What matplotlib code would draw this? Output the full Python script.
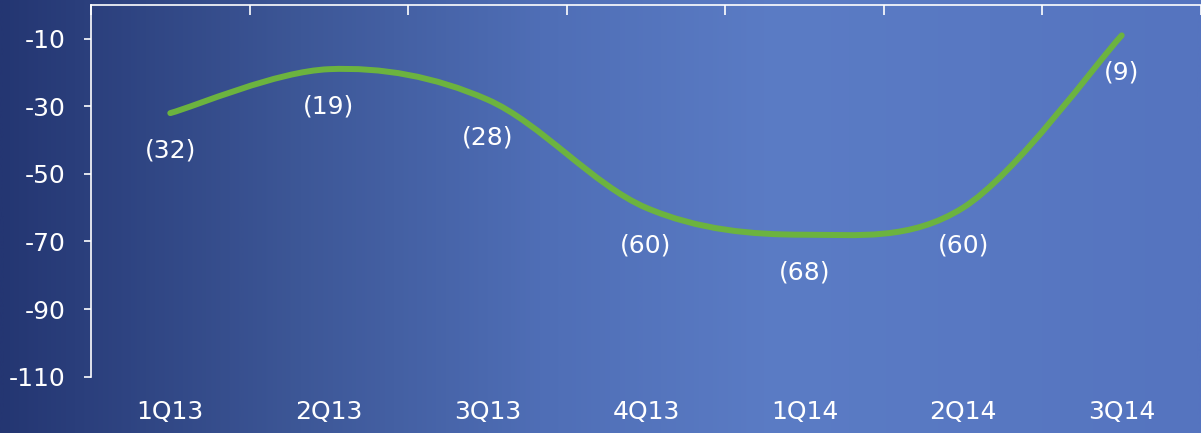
import numpy as np
import matplotlib
matplotlib.use("Agg")
import matplotlib.pyplot as plt
from matplotlib.path import Path
from matplotlib.patches import PathPatch
from matplotlib.colors import LinearSegmentedColormap

# chart data
quarters = ["1Q13", "2Q13", "3Q13", "4Q13", "1Q14", "2Q14", "3Q14"]
values = [-32, -19, -28, -60, -68, -60, -9]
labels = ["(32)", "(19)", "(28)", "(60)", "(68)", "(60)", "(9)"]
yticks = [-110, -90, -70, -50, -30, -10]

plt.rcParams['font.family'] = ['DejaVu Sans']
plt.rcParams['axes.unicode_minus'] = False

fig = plt.figure(figsize=(12.01, 4.33), dpi=100)

# background gradient
bg = fig.add_axes([0, 0, 1, 1], zorder=-5)
cmap = LinearSegmentedColormap.from_list("bg", [
    (0.0, "#243672"),
    (0.25, "#3d5797"),
    (0.45, "#4f6eb6"),
    (0.65, "#5b7cc5"),
    (1.0, "#5574bf"),
])
bg.imshow(np.linspace(0, 1, 512)[None, :], aspect="auto", cmap=cmap,
          extent=[0, 1, 0, 1])
bg.axis("off")

ax = fig.add_axes([91 / 1201, 1 - 376.6 / 433, 1 - 91 / 1201, 371.6 / 433])
ax.set_facecolor("none")

x = np.arange(len(values))
y = np.array(values, dtype=float)

# smoothed line (bezier through the points)
pts = np.column_stack([x, y])
verts = [pts[0]]
codes = [Path.MOVETO]
for i in range(len(pts) - 1):
    p0 = pts[i - 1] if i > 0 else pts[i]
    p1 = pts[i]
    p2 = pts[i + 1]
    p3 = pts[i + 2] if i + 2 < len(pts) else pts[i + 1]
    c1 = p1 + (p2 - p0) / 6
    c2 = p2 - (p3 - p1) / 6
    verts += [c1, c2, p2]
    codes += [Path.CURVE4] * 3
ax.add_patch(PathPatch(Path(verts, codes), facecolor="none",
                       edgecolor="#6cb33f", lw=4.3, capstyle="round"))

for xi, yi, lab in zip(x, y, labels):
    ax.annotate(lab, (xi, yi), xytext=(0, -27), textcoords="offset points",
                ha="center", va="center", color="white", fontsize=18)

ax.set_xlim(-0.5, len(values) - 0.5)
ax.set_ylim(-110, 0)

# category boundary ticks on top line
ax.set_xticks(np.arange(len(values) + 1) - 0.5)
ax.set_xticklabels([])
ax.set_xticks(x, minor=True)
ax.set_xticklabels(quarters, minor=True)
ax.tick_params(axis="x", which="major", top=True, bottom=False, direction="in",
               length=7, width=1.2, color="white", labeltop=False, labelbottom=False)
ax.tick_params(axis="x", which="minor", bottom=True, top=False, length=0,
               pad=17, labelsize=18, labelcolor="white")

ax.set_yticks(yticks)
ax.tick_params(axis="y", length=5, width=1.2, color="white", pad=13,
               labelsize=18, labelcolor="white")

for s in ["right", "bottom"]:
    ax.spines[s].set_visible(False)
for s in ["top", "left"]:
    ax.spines[s].set_color("white")
    ax.spines[s].set_linewidth(1.2)

fig.savefig("out.png", dpi=100)
